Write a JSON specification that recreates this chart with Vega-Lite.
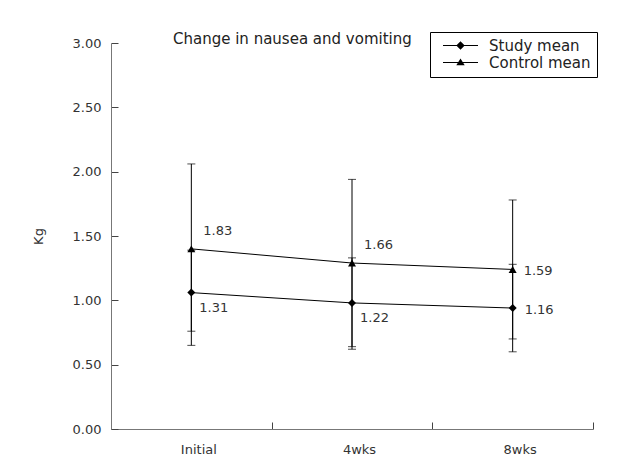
{
  "$schema": "https://vega.github.io/schema/vega-lite/v6.json",
  "width": 482,
  "height": 386,
  "autosize": "none",
  "padding": {"left": 111, "top": 43, "right": 24, "bottom": 39},
  "background": "white",
  "config": {"view": {"stroke": null}, "font": "DejaVu Sans"},
  "title": {"text": "Change in nausea and vomiting", "anchor": "start", "frame": "group", "dx": 62, "offset": -27, "fontSize": 15, "fontWeight": "normal", "color": "#222", "baseline": "alphabetic"},
  "data": {"values": [
    {"time": "Initial", "series": "Study mean", "mean": 1.06, "lo": 0.65, "hi": 1.39, "label": "1.31"},
    {"time": "4wks", "series": "Study mean", "mean": 0.98, "lo": 0.62, "hi": 1.33, "label": "1.22"},
    {"time": "8wks", "series": "Study mean", "mean": 0.94, "lo": 0.6, "hi": 1.28, "label": "1.16"},
    {"time": "Initial", "series": "Control mean", "mean": 1.4, "lo": 0.76, "hi": 2.06, "label": "1.83"},
    {"time": "4wks", "series": "Control mean", "mean": 1.29, "lo": 0.64, "hi": 1.94, "label": "1.66"},
    {"time": "8wks", "series": "Control mean", "mean": 1.24, "lo": 0.7, "hi": 1.78, "label": "1.59"}
  ]},
  "encoding": {
    "x": {"field": "time", "type": "nominal", "sort": ["Initial", "4wks", "8wks"],
      "scale": {"paddingInner": 0, "paddingOuter": 0},
      "axis": {"title": null, "labelAngle": 0, "tickBand": "extent", "tickSize": -7, "domainColor": "#777", "tickColor": "#444", "labelFontSize": 13, "labelColor": "#333", "labelPadding": 21, "labelOffset": 7}}
  },
  "layer": [
    {
      "mark": {"type": "rule", "color": "black", "strokeWidth": 1},
      "encoding": {
        "y": {"field": "lo", "type": "quantitative", "scale": {"domain": [0, 3], "nice": false},
          "axis": {"title": "Kg", "values": [0, 0.5, 1, 1.5, 2, 2.5, 3], "format": ".2f", "grid": false, "tickSize": -7, "labelPadding": 17, "domainColor": "#777", "tickColor": "#444", "labelFontSize": 13, "labelColor": "#333", "titleX": -73, "titleY": 193, "titleAngle": -90, "titleBaseline": "middle", "titleFontWeight": "normal", "titleFontSize": 13, "titleColor": "#333"}},
        "y2": {"field": "hi"},
        "detail": {"field": "series"}
      }
    },
    {
      "mark": {"type": "tick", "color": "black", "size": 8, "thickness": 1},
      "encoding": {"y": {"field": "lo", "type": "quantitative"}}
    },
    {
      "mark": {"type": "tick", "color": "black", "size": 8, "thickness": 1},
      "encoding": {"y": {"field": "hi", "type": "quantitative"}}
    },
    {
      "mark": {"type": "line", "color": "black", "strokeWidth": 1},
      "encoding": {"y": {"field": "mean", "type": "quantitative"}, "detail": {"field": "series"}}
    },
    {
      "layer": [
        {
          "mark": {"type": "point", "filled": true, "color": "black", "opacity": 1, "size": 64},
          "encoding": {
            "y": {"field": "mean", "type": "quantitative"},
            "shape": {"field": "series", "type": "nominal", "scale": {"domain": ["Study mean", "Control mean"], "range": ["diamond", "triangle-up"]}, "legend": null}
          }
        },
        {
          "mark": {"type": "point", "filled": true, "color": "black", "opacity": 0, "size": 100},
          "encoding": {
            "y": {"field": "mean", "type": "quantitative"},
            "shape": {"field": "series", "type": "nominal",
              "scale": {"domain": ["Study mean", "Control mean"], "range": ["M-3.5,-0.1H3.5V0.1H-3.5ZM0,-0.84L0.84,0L0,0.84L-0.84,0Z", "M-3.5,-0.1H3.5V0.1H-3.5ZM0,-0.78L0.84,0.56L-0.84,0.56Z"]},
              "legend": {"title": null, "orient": "none", "legendX": 319, "legendY": -11, "direction": "vertical", "strokeColor": "black", "fillColor": "white", "padding": 6, "symbolOffset": 17, "symbolSize": 100, "labelFontSize": 15, "labelColor": "#222", "labelOffset": 21, "rowPadding": 1, "labelExpr": "datum.label + '  '",
                "encode": {"symbols": {"update": {"fill": {"value": "black"}, "opacity": {"value": 1}, "fillOpacity": {"value": 1}}}}}}
          }
        }
      ],
      "resolve": {"scale": {"shape": "independent"}, "legend": {"shape": "independent"}}
    },
    {
      "transform": [{"filter": "datum.series == 'Control mean' && datum.time != '8wks'"}],
      "mark": {"type": "text", "align": "left", "baseline": "middle", "dx": 12, "dy": -18, "fontSize": 13, "color": "#333"},
      "encoding": {"y": {"field": "mean", "type": "quantitative"}, "text": {"field": "label"}}
    },
    {
      "transform": [{"filter": "datum.series == 'Control mean' && datum.time == '8wks'"}],
      "mark": {"type": "text", "align": "left", "baseline": "middle", "dx": 11, "dy": 2, "fontSize": 13, "color": "#333"},
      "encoding": {"y": {"field": "mean", "type": "quantitative"}, "text": {"field": "label"}}
    },
    {
      "transform": [{"filter": "datum.series == 'Study mean' && datum.time != '8wks'"}],
      "mark": {"type": "text", "align": "left", "baseline": "middle", "dx": 8, "dy": 15, "fontSize": 13, "color": "#333"},
      "encoding": {"y": {"field": "mean", "type": "quantitative"}, "text": {"field": "label"}}
    },
    {
      "transform": [{"filter": "datum.series == 'Study mean' && datum.time == '8wks'"}],
      "mark": {"type": "text", "align": "left", "baseline": "middle", "dx": 12, "dy": 2, "fontSize": 13, "color": "#333"},
      "encoding": {"y": {"field": "mean", "type": "quantitative"}, "text": {"field": "label"}}
    }
  ]
}
